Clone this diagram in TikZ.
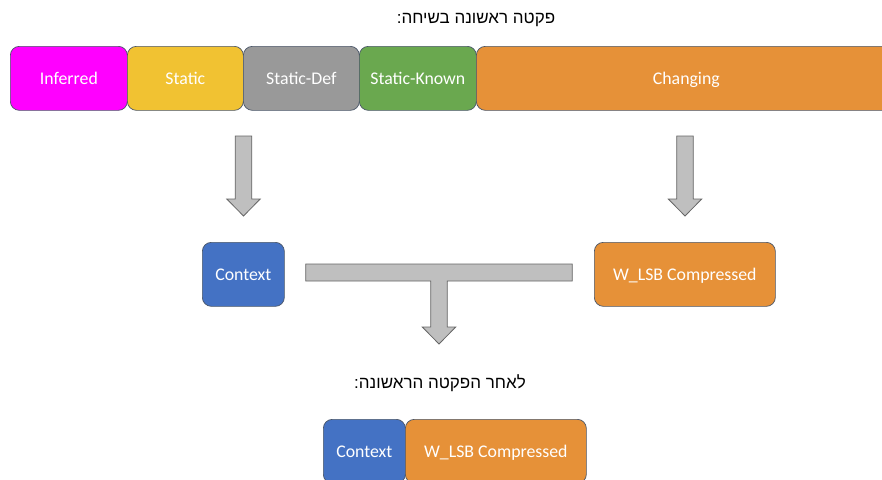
\documentclass[tikz,border=0pt]{standalone}
\usepackage{fontspec}
\setmainfont{Carlito}
\newfontfamily\hebfont[Script=Hebrew]{Liberation Sans}
\TeXXeTstate=1
\usetikzlibrary{positioning}

\definecolor{inferredmagenta}{HTML}{FF00FF}
\definecolor{staticyellow}{HTML}{F1C232}
\definecolor{defgray}{HTML}{999999}
\definecolor{knowngreen}{HTML}{6AA84F}
\definecolor{changeorange}{HTML}{E69138}
\definecolor{ctxblue}{HTML}{4472C4}
\definecolor{edgeslate}{HTML}{4A5668}
\definecolor{arrowgray}{HTML}{BFBFBF}
\definecolor{arrowedge}{HTML}{666666}

% down block arrow: x centre, top, tip
\newcommand\blockdown[3]{%
  \draw[blockArrow] (#1-8.3,#2) -- (#1+8.3,#2) -- (#1+8.3,#3-17) -- (#1+16.7,#3-17)
    -- (#1,#3) -- (#1-16.7,#3-17) -- (#1-8.3,#3-17) -- cycle;}

\begin{document}
\begin{tikzpicture}
[x=1pt,y=-1pt,%
  field/.style={draw=edgeslate,line width=0.7pt,rounded corners=9pt,fill=#1,text=white,
    minimum height=64pt,inner sep=0pt,anchor=north west,text height=13.5pt,text depth=1.5pt,
    font=\fontsize{17.8}{20}\selectfont},%
  caption/.style={font=\hebfont\fontsize{17}{20}\selectfont},%
  blockArrow/.style={draw=arrowedge,fill=arrowgray,line width=0.8pt,line join=miter}]
\useasboundingbox (0,0) rectangle (882,479);
\clip (0,0) rectangle (882,479);
%% headings
\node[caption] (first) at (476,20) {\beginR פקטה ראשונה בשיחה:\endR};
\node[caption] (after) at (440,383) {\beginR לאחר הפקטה הראשונה:\endR};
%% header fields of the first packet
\foreach \name/\txt/\shade/\x/\w in {
  inf/Inferred/inferredmagenta/10/117, sta/Static/staticyellow/127/116,
  sdef/Static-Def/defgray/243/116, skn/Static-Known/knowngreen/359/117,
  chg/Changing/changeorange/476/420}
{
  \node[field=\shade,minimum width=\w pt] (\name) at (\x,46) {\txt};
}
%% compressed parts
\node[field=ctxblue,minimum width=82pt] (ctx) at (202,242) {Context};
\node[field=changeorange,minimum width=181pt] (wlsb) at (594,242) {W\_LSB Compressed};
%% after the first packet
\node[field=ctxblue,minimum width=82pt] (ctxafter) at (323,419) {Context};
\node[field=changeorange,minimum width=181pt] (wlsbafter) at (405,419) {W\_LSB Compressed};
%% block arrows
\blockdown{243.5}{136}{216}
\blockdown{685}{136}{216}
\draw[blockArrow] (305.7,264) -- (572.3,264) -- (572.3,281) -- (447.3,281) -- (447.3,327)
  -- (455.7,327) -- (439,344) -- (422.3,327) -- (430.7,327) -- (430.7,281) -- (305.7,281) -- cycle;
\end{tikzpicture}
\end{document}
